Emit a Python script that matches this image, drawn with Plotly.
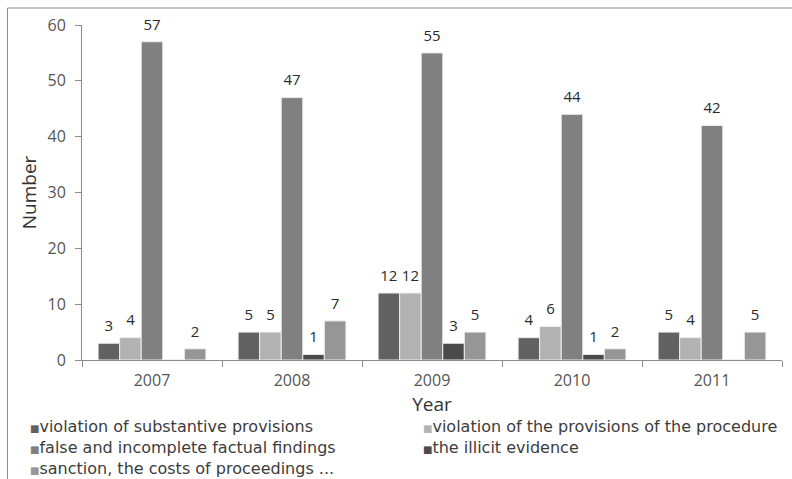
import plotly.graph_objects as go

years = ["2007", "2008", "2009", "2010", "2011"]

series_names = [
    "violation of substantive provisions",
    "violation of the provisions of the procedure",
    "false and incomplete factual findings",
    "the illicit evidence",
    "sanction, the costs of proceedings ...",
]
substantive = [3, 5, 12, 4, 5]
procedure = [4, 5, 12, 6, 4]
factual = [57, 47, 55, 44, 42]
illicit = [0, 1, 3, 1, 0]
sanction = [2, 7, 5, 2, 5]
series_values = [substantive, procedure, factual, illicit, sanction]
series_colors = ["#616161", "#b2b2b2", "#808080", "#4a4a4a", "#969696"]

y_ticks = [0, 10, 20, 30, 40, 50, 60]

W, H = 792, 479
M_L, M_R, M_T, M_B = 82, 10, 25, 119
PW, PH = W - M_L - M_R, H - M_T - M_B


def px_x(x):
    return (x - M_L) / PW


def px_y(y):
    return (H - M_B - y) / PH


FONT = "Open Sans, DejaVu Sans, sans-serif"
LEGEND_FONT = "DejaVu Sans, sans-serif"
GAP = 0.23

fig = go.Figure()

for name, vals, col in zip(series_names, series_values, series_colors):
    fig.add_trace(go.Bar(
        name=name, x=years, y=vals,
        marker=dict(color=col, line=dict(color="#ececec", width=1)),
        hoverinfo="x+y+name", showlegend=False,
    ))

# value labels, grouped the same way as the bars
for name, vals in zip(series_names, series_values):
    fig.add_trace(go.Scatter(
        x=years, y=vals, mode="markers+text",
        text=[str(v) if v else "" for v in vals],
        textposition="top center",
        textfont=dict(family=FONT, size=15, color="#2b2b2b"),
        marker=dict(size=12, opacity=0),
        showlegend=False, hoverinfo="skip", cliponaxis=False,
    ))


# legend laid out in two columns beneath the axis
def legend_line(i):
    return (f"<span style='font-size:10px;color:{series_colors[i]}'>■</span>"
            f"{series_names[i]}")


legend_cols = [(28, [0, 2, 4]), (421, [1, 3])]
for lx, idx in legend_cols:
    fig.add_annotation(
        xref="paper", yref="paper", x=px_x(lx), y=px_y(415),
        xanchor="left", yanchor="top", align="left", showarrow=False,
        text="<br>".join(legend_line(i) for i in idx),
        font=dict(family=LEGEND_FONT, size=16, color="#3c3c3c"),
    )

# outer frame
fig.add_shape(type="rect", xref="paper", yref="paper",
              x0=px_x(7.5), x1=px_x(820), y0=px_y(520), y1=px_y(8),
              line=dict(color="#8c8c8c", width=1), layer="below")

fig.update_layout(
    width=W, height=H,
    margin=dict(l=M_L, r=M_R, t=M_T, b=M_B),
    barmode="group", bargap=GAP, bargroupgap=0,
    scattermode="group", scattergap=GAP,
    plot_bgcolor="white", paper_bgcolor="white",
    font=dict(family=FONT, color="#404040"),
    showlegend=False,
)
fig.update_xaxes(
    type="category", showline=True, linecolor="#8c8c8c", linewidth=1,
    ticks="outside", tickson="boundaries", ticklen=6, tickcolor="#8c8c8c",
    tickfont=dict(family=FONT, size=16, color="#555555"),
    ticklabelstandoff=6,
    title=dict(text="Year", font=dict(family=FONT, size=19, color="#333333"), standoff=0),
    showgrid=False, zeroline=False,
)
fig.update_yaxes(
    range=[0, 60], tickvals=y_ticks, showline=True, linecolor="#8c8c8c", linewidth=1,
    ticks="outside", ticklen=6, tickcolor="#8c8c8c",
    tickfont=dict(family=FONT, size=16, color="#555555"),
    ticklabelstandoff=6,
    title=dict(text="Number", font=dict(family=FONT, size=19, color="#333333"), standoff=5),
    showgrid=False, zeroline=False,
)

fig.write_html("out.html")
